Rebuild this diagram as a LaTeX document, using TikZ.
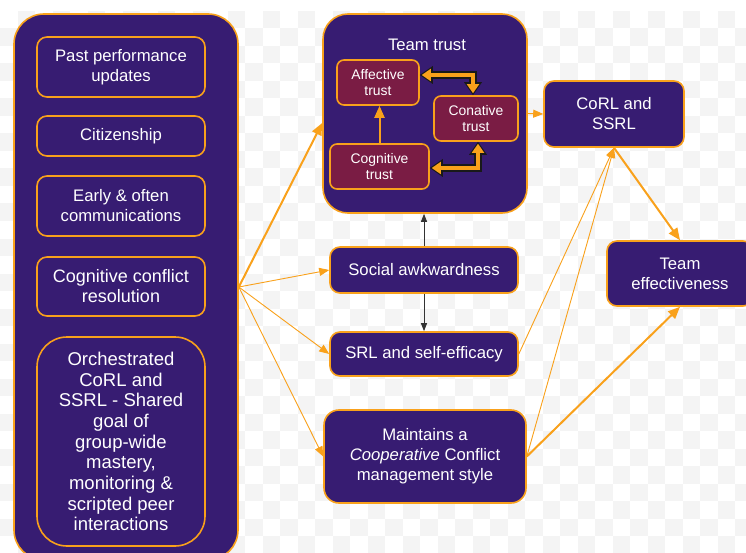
\documentclass[tikz,border=0pt]{standalone}
\usepackage{fontspec}
\setmainfont{Liberation Sans}
\usetikzlibrary{arrows.meta}
\definecolor{boxpurple}{HTML}{371C72}
\definecolor{boxmaroon}{HTML}{7A1C44}
\definecolor{lineorange}{HTML}{F9A11B}
\definecolor{checkgrey}{HTML}{F4F4F4}

\begin{document}
\begin{tikzpicture}[x=1pt,y=-1pt,
        box/.style={draw=lineorange, line width=1.6pt, fill=boxpurple, text=white,
            rounded corners=10pt, align=center, inner sep=0pt,
            font=\fontsize{16.7}{20}\selectfont},
        trustbox/.style={box, fill=boxmaroon, rounded corners=7pt,
            font=\fontsize{13.9}{16.7}\selectfont, minimum height=45pt},
        link/.style={draw=lineorange, line width=0.9pt, -{Triangle[length=10pt,width=8pt]}},
        biglink/.style={draw=lineorange, line width=2pt, -{Triangle[length=12pt,width=10pt]}},
        blacklink/.style={draw=black!80, line width=1pt, -{Triangle[length=8pt,width=6pt]}},
        dblouter/.style={draw=black!90, line width=7.5pt,
            {Triangle[length=13pt,width=18pt,line width=0pt]}-{Triangle[length=13pt,width=18pt,line width=0pt]}},
        dblinner/.style={draw=lineorange, line width=4pt, shorten <=2pt, shorten >=2pt,
            {Triangle[length=9pt,width=12.5pt,line width=0pt]}-{Triangle[length=9pt,width=12.5pt,line width=0pt]}}]
                    \useasboundingbox (0,0) rectangle (746,553);
                    \clip (0,0) rectangle (746,553);
                    \fill[white] (0,0) rectangle (746,553);
                    \foreach \i in {0,...,42}
                        \foreach \j in {0,...,30}{
                            \pgfmathparse{int(mod(\i+\j,2))}
                            \ifnum\pgfmathresult=1
                                \fill[checkgrey] (\i*17.5,11+\j*17.5) rectangle ++(17.5,17.5);
                            \fi
                        }

                    \node[box, rounded corners=30pt, minimum width=224pt, minimum height=546pt] (drivers) at (126,287) {};
                    \node[box, minimum width=168pt, minimum height=60pt] (past) at (121,67) {Past performance\\updates};
                    \node[box, minimum width=168pt, minimum height=40pt] (citizen) at (121,136) {Citizenship};
                    \node[box, minimum width=168pt, minimum height=60pt] (early) at (121,206) {Early \& often\\communications};
                    \node[box, minimum width=168pt, minimum height=59pt, font=\fontsize{18}{20}\selectfont] (cogconflict) at (121,286.5) {Cognitive conflict\\resolution};
                    \node[box, rounded corners=30pt, minimum width=168pt, minimum height=209pt, font=\fontsize{18.5}{20.7}\selectfont] (orchestrated) at (121,441.5) {Orchestrated\\CoRL and\\SSRL - Shared\\goal of\\group-wide\\mastery,\\monitoring \&\\scripted peer\\interactions};

                    \node[box, rounded corners=25pt, minimum width=204pt, minimum height=199pt] (trust) at (425,113.5) {};
                    \node[text=white, font=\fontsize{16.7}{20}\selectfont] (trusttitle) at (427,45) {Team trust};
                    \node[trustbox, minimum width=82pt] (affective) at (378,82.5) {Affective\\trust};
                    \node[trustbox, minimum width=84pt] (conative) at (476,118.5) {Conative\\trust};
                    \node[trustbox, minimum width=99pt] (cognitive) at (379.5,166.5) {Cognitive\\trust};

                    \node[box, minimum width=188pt, minimum height=46pt] (social) at (424,270) {Social awkwardness};
                    \node[box, minimum width=188pt, minimum height=44pt] (srl) at (424,354) {SRL and self-efficacy};
                    \node[box, rounded corners=15pt, minimum width=202pt, minimum height=93pt] (coopstyle) at (425,456.5) {Maintains a\\\textit{Cooperative} Conflict\\management style};
                    \node[box, minimum width=140pt, minimum height=66pt] (corl) at (614,114) {CoRL and\\SSRL};
                    \node[box, minimum width=146pt, minimum height=65pt] (effect) at (680,273.5) {Team\\effectiveness};

                    \coordinate (fan) at (drivers.east);
                    \draw[biglink] (fan) -- (trust.west |- 0,123);
                    \draw[link] (fan) -- (social.west);
                    \draw[link] (fan) -- (srl.west);
                    \draw[link] (fan) -- (coopstyle.west);
                    \draw[link] (trust.east) -- (corl.west);
                    \draw[biglink] (corl.south) -- (effect.north);
                    \draw[link] (srl.east) -- (corl.south);
                    \draw[link] (coopstyle.east) -- (corl.south);
                    \draw[biglink] (coopstyle.east) -- (effect.south);

                    \draw[blacklink] (social.north) -- (social.north |- trust.south);
                    \draw[blacklink] (social.south) -- (social.south |- srl.north);

                    \draw[biglink] (cognitive.north) -- (cognitive.north |- affective.south);
                    \draw[dblouter] ([yshift=7.5pt]affective.east) -| ([xshift=-3pt]conative.north);
                    \draw[dblinner] ([yshift=7.5pt]affective.east) -| ([xshift=-3pt]conative.north);
                    \draw[dblouter] ([yshift=-1.5pt]cognitive.east) -| ([xshift=2pt]conative.south);
                    \draw[dblinner] ([yshift=-1.5pt]cognitive.east) -| ([xshift=2pt]conative.south);
                \end{tikzpicture}
\end{document}
